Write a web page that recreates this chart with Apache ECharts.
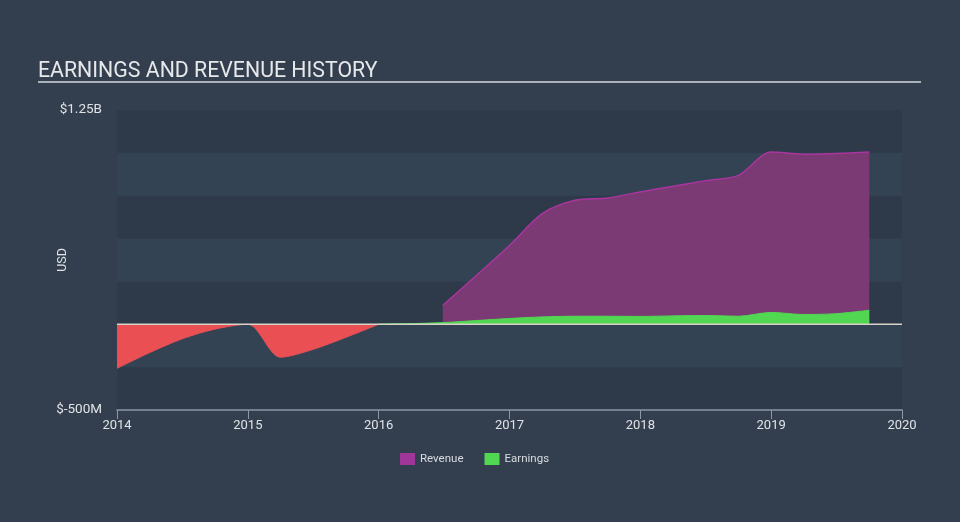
<!DOCTYPE html>
<html>
<head>
<meta charset="utf-8">
<script src="https://cdn.jsdelivr.net/npm/echarts@6/dist/echarts.min.js"></script>
<style>
html,body{margin:0;padding:0;background:#333f4f;}
#chart{width:960px;height:522px;}
</style>
</head>
<body>
<div id="chart"></div>
<script>
// Data (values in millions USD, x = fractional year)
const revenueX = [2016.49, 2017.0, 2017.25, 2017.5, 2017.75, 2018.0, 2018.25, 2018.5, 2018.75, 2019.0, 2019.25, 2019.5, 2019.75];
const revenueY = [111, 460, 645, 723, 737, 772, 805, 838, 869, 1005, 992, 996, 1005];
const lossX = [2014.0, 2014.25, 2014.5, 2014.75, 2015.0, 2015.25, 2015.5, 2015.75, 2016.0];
const lossY = [-257, -165, -84, -28, 0, -192, -146, -76, 0];
const earnX = [2016.0, 2016.25, 2016.5, 2016.75, 2017.0, 2017.25, 2017.5, 2017.75, 2018.0, 2018.25, 2018.5, 2018.75, 2019.0, 2019.25, 2019.5, 2019.75];
const earnY = [1, 4, 10, 22, 34, 43, 47, 47, 46, 49, 51, 47, 69, 57, 62, 82];
const zeroX = [2014, 2020];
const zeroY = [0, 0];
const yMin = -500, yMax = 1250;

const zip = (xs, ys) => xs.map((x, i) => [x, ys[i]]);

const chart = echarts.init(document.getElementById('chart'));
chart.setOption({
  backgroundColor: '#333f4f',
  animation: false,
  textStyle: { fontFamily: 'Roboto' },
  title: {
    text: 'EARNINGS AND REVENUE HISTORY',
    left: 33, top: 56,
    textStyle: { color: '#e6e8ea', fontSize: 21.3, fontWeight: 'normal', fontFamily: 'Roboto' }
  },
  graphic: [{
    type: 'line', shape: { x1: 38, y1: 82, x2: 921, y2: 82 },
    style: { stroke: '#aab1ba', lineWidth: 2 }
  }],
  legend: {
    bottom: 52, left: 395,
    itemWidth: 15, itemHeight: 12, itemGap: 21,
    icon: 'rect',
    textStyle: { color: '#d8dce0', fontSize: 11.5 },
    data: [
      { name: 'Revenue', itemStyle: { color: '#a0359a' } },
      { name: 'Earnings', itemStyle: { color: '#52d752' } }
    ]
  },
  grid: { left: 117, right: 58, top: 110, bottom: 112 },
  xAxis: {
    type: 'value', min: 2014, max: 2020, interval: 1,
    axisLine: { onZero: false, lineStyle: { color: '#8d98a6', width: 1.5 } },
    axisTick: { show: true, length: 9, lineStyle: { color: '#8d98a6' } },
    axisLabel: { color: '#e0e3e6', fontSize: 13, margin: 9, formatter: v => String(v) },
    splitLine: { show: false }
  },
  yAxis: {
    type: 'value', min: yMin, max: yMax, interval: 250,
    name: 'USD', nameLocation: 'middle', nameGap: 48, nameRotate: 90,
    nameMoveOverlap: false,
    nameTextStyle: { color: '#e0e3e6', fontSize: 12.5 },
    axisLine: { show: false }, axisTick: { show: false },
    axisLabel: {
      color: '#e0e3e6', fontSize: 13.5, margin: 15,
      formatter: v => v === yMax ? '$1.25B' : (v === yMin ? '$-500M' : '')
    },
    splitLine: { show: false },
    splitArea: { show: true, areaStyle: { color: ['#2e3a49', '#334354'] } }
  },
  series: [
    {
      name: 'Revenue', type: 'line', smooth: 0.3, symbol: 'none', z: 2,
      data: zip(revenueX, revenueY),
      lineStyle: { color: '#a9359f', width: 1.5 },
      areaStyle: { color: '#7b3a73', opacity: 1, origin: 0 },
      itemStyle: { color: '#a0359a' }
    },
    {
      name: 'Earnings', type: 'line', smooth: 0.3, symbol: 'none', z: 3,
      data: zip(earnX, earnY),
      lineStyle: { color: '#52d752', width: 1 },
      areaStyle: { color: '#52d752', opacity: 1, origin: 0 },
      itemStyle: { color: '#52d752' }
    },
    {
      name: 'Loss', type: 'line', smooth: 0.3, symbol: 'none', z: 3,
      data: zip(lossX, lossY),
      lineStyle: { color: '#ea5054', width: 1 },
      areaStyle: { color: '#e94f53', opacity: 1, origin: 0 },
      itemStyle: { color: '#e94f53' }
    },
    {
      name: 'Zero', type: 'line', symbol: 'none', z: 4, silent: true,
      data: zip(zeroX, zeroY),
      lineStyle: { color: '#d6d2c8', width: 1.5 }
    }
  ]
});
</script>
</body>
</html>
